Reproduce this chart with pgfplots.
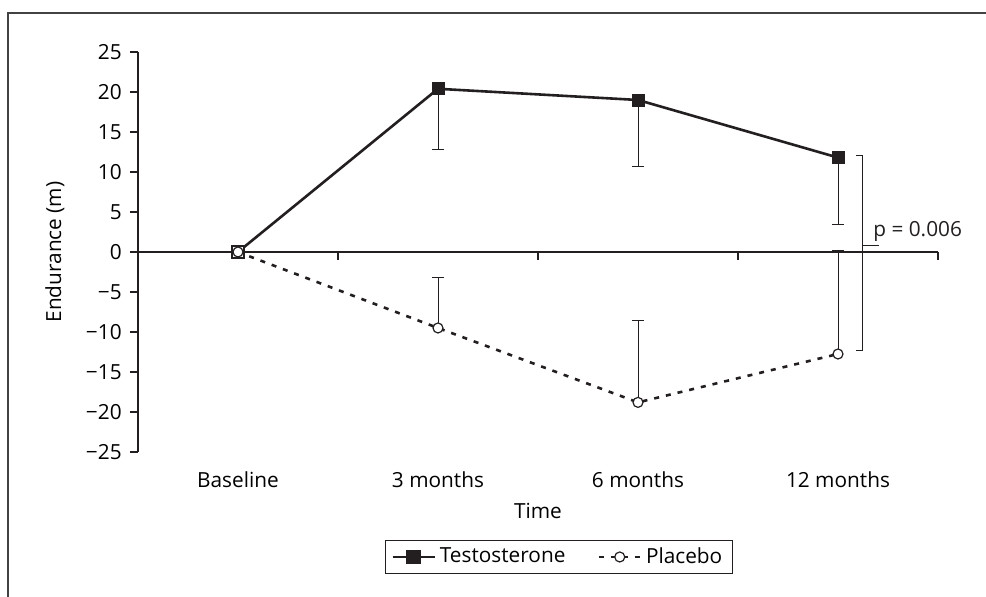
\documentclass[border=0pt]{standalone}
\usepackage{fontspec}
\setmainfont{Open Sans}
\usepackage{pgfplots}
\pgfplotsset{compat=1.18}
\definecolor{ink}{HTML}{231F20}
\begin{document}
\fontsize{10.4}{12}\selectfont
\begin{tikzpicture}[x=1pt,y=1pt]
\useasboundingbox (0,0) rectangle (493,298.5);
\draw[ink!85, line width=1pt] (4,0) -- (4,292) -- (493,292);
\begin{axis}[
  at={(69pt,72.5pt)}, anchor=south west,
  scale only axis, width=400pt, height=200pt,
  xmin=-0.5, xmax=3.5, ymin=-25, ymax=25,
  clip=false,
  axis x line*=bottom, axis y line*=left,
  x axis line style={draw=none},
  y axis line style={ink, line width=0.6pt},
  xtick={0,1,2,3},
  xticklabels={Baseline,3 months,6 months,12 months},
  xtick style={draw=none},
  ytick={-25,-20,-15,-10,-5,0,5,10,15,20,25},
  yticklabels={−25,−20,−15,−10,−5,0,5,10,15,20,25},
  ytick style={ink, line width=0.6pt},
  tick align=outside, major tick length=4pt,
  xticklabel style={yshift=-2pt},
  yticklabel style={xshift=-0.5pt},
  xlabel={Time},
  xlabel style={at={(axis description cs:0.5,-0.147)}, anchor=center},
  ylabel={Endurance (m)},
  ylabel style={at={(axis description cs:-0.104,0.5)}, anchor=center},
  legend style={at={(axis description cs:0.526,-0.2625)}, anchor=center,
    draw=ink, line width=0.6pt, inner xsep=3pt, inner ysep=1.5pt,
    legend columns=2,
    /tikz/every even column/.append style={column sep=14pt}},
  legend image code/.code={\draw[mark repeat=2,mark phase=2,#1] plot coordinates {(0pt,0pt) (10.5pt,0pt) (21pt,0pt)};},
]
% x axis line at zero with ticks between categories
\draw[ink, line width=0.6pt] (axis cs:-0.5,0) -- (axis cs:3.5,0);
\draw[ink, line width=0.6pt] (axis cs:0.5,0) -- (axis cs:0.5,-1);
\draw[ink, line width=0.6pt] (axis cs:1.5,0) -- (axis cs:1.5,-1);
\draw[ink, line width=0.6pt] (axis cs:2.5,0) -- (axis cs:2.5,-1);
\draw[ink, line width=0.6pt] (axis cs:3.5,0) -- (axis cs:3.5,-1);

\addlegendimage{ink, line width=1.3pt, mark=square*, mark size=3pt, mark options={solid}}
\addlegendentry{Testosterone}
\addlegendimage{ink, line width=1.3pt, dash pattern=on 2.5pt off 3.5pt, mark=*, mark size=2.5pt, mark options={solid, fill=white, line width=0.6pt}}
\addlegendentry{Placebo}

% Testosterone line
\addplot[ink, line width=1.3pt, no marks, forget plot] coordinates {(0,0) (1,20.4) (2,19.0) (3,11.8)};
% Testosterone error bars + marks
\addplot[ink, only marks, mark=square*, mark size=3pt, forget plot,
  error bars/.cd, y dir=minus, y explicit,
  error bar style={line width=0.5pt, ink},
  error mark options={ink, mark size=3pt, line width=0.5pt, rotate=90}]
  coordinates {(1,20.4) +- (0,7.6) (2,19.0) +- (0,8.3) (3,11.8) +- (0,8.4)};
% Baseline open square
\addplot[ink, only marks, mark=square*, mark size=3pt, mark options={fill=white, line width=0.6pt}, forget plot] coordinates {(0,0)};
% Placebo line
\addplot[ink, line width=1.3pt, dash pattern=on 2.5pt off 3.5pt, no marks, forget plot] coordinates {(0,0) (1,-9.5) (2,-18.8) (3,-12.75)};
% Placebo error bars + marks
\addplot[ink, only marks, mark=*, mark size=2.5pt, mark options={fill=white, line width=0.6pt}, forget plot,
  error bars/.cd, y dir=plus, y explicit,
  error bar style={line width=0.5pt, ink},
  error mark options={ink, mark size=3pt, line width=0.5pt, rotate=90}]
  coordinates {(1,-9.5) +- (0,6.3) (2,-18.8) +- (0,10.2) (3,-12.75) +- (0,12.95)};
% Baseline open circle on top of the square
\addplot[ink, only marks, mark=*, mark size=2.5pt, mark options={fill=white, line width=0.6pt}, forget plot] coordinates {(0,0)};

% significance bracket
\draw[ink, line width=0.5pt] (axis cs:3.09,12.0) -- (axis cs:3.12,12.0) -- (axis cs:3.12,-12.3) -- (axis cs:3.09,-12.3);
\draw[ink, line width=0.5pt] (axis cs:3.12,0.75) -- (axis cs:3.205,0.75);
\node[anchor=base west, inner sep=0pt, text=ink] at (axis cs:3.175,1.9) {p = 0.006};
\end{axis}
\end{tikzpicture}
\end{document}
